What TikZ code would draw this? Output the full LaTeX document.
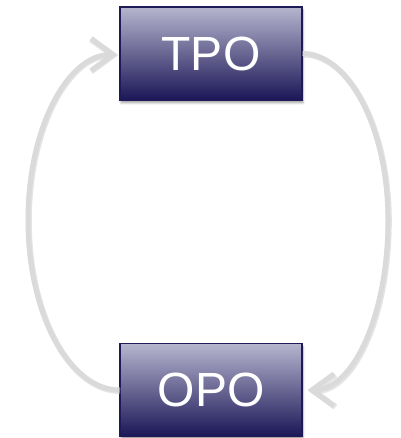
\documentclass[tikz,border=0pt]{standalone}
\usepackage{fontspec}
\setmainfont{Liberation Sans}
\usetikzlibrary{arrows.meta,shadows.blur}
\definecolor{boxtop}{HTML}{B6B5CE}
\definecolor{boxbot}{HTML}{1B1657}
\definecolor{boxedge}{HTML}{1E1A55}
\definecolor{loopgray}{HTML}{DADADA}
\definecolor{loopshade}{HTML}{C4C4C4}
\begin{document}
\begin{tikzpicture}[x=1pt,y=1pt,
  stage/.style={draw=boxedge, line width=1.2pt, top color=boxtop, bottom color=boxbot,
    minimum width=182pt, minimum height=93pt, inner sep=0pt,
    text=white, font=\fontsize{48}{52}\selectfont,
    blur shadow={shadow xshift=1pt, shadow yshift=-3pt, shadow opacity=35,
      shadow blur steps=6, shadow blur extra rounding=0pt}},
  loopline/.style={draw=loopgray, line width=5pt,
    -{Straight Barb[length=22pt, width=32pt, line width=5pt]}},
  loopunder/.style={draw=loopshade, line width=6pt, opacity=0.45,
    -{Straight Barb[length=22pt, width=32pt, line width=6pt]}}]
\useasboundingbox (0,0) rectangle (400,438);

% outermost points of the two half-oval loops
\coordinate (lmid) at (28,218);
\coordinate (rmid) at (388,218);

\node[stage] (tpo) at (211,384.5) {TPO};
\node[stage] (opo) at (211,48) {OPO};

% ends of the loops at the box sides
\coordinate (lend) at ([xshift=-2pt,yshift=-1pt]tpo.west);
\coordinate (rend) at ([xshift=5pt]opo.east);

% soft edge under the loop lines
\begin{scope}[transform canvas={xshift=0.8pt,yshift=-1pt}]
\draw[loopunder] (opo.west) .. controls +(-50,0) and +(0,-94) .. (lmid)
  .. controls +(0,92) and +(-50,0) .. (lend);
\draw[loopunder] (tpo.east) .. controls +(46,0) and +(0,92) .. (rmid)
  .. controls +(0,-94) and +(46,0) .. (rend);
\end{scope}

% OPO back to TPO on the left, TPO on to OPO on the right
\draw[loopline] (opo.west) .. controls +(-50,0) and +(0,-94) .. (lmid)
  .. controls +(0,92) and +(-50,0) .. (lend);
\draw[loopline] (tpo.east) .. controls +(46,0) and +(0,92) .. (rmid)
  .. controls +(0,-94) and +(46,0) .. (rend);
\end{tikzpicture}
\end{document}
